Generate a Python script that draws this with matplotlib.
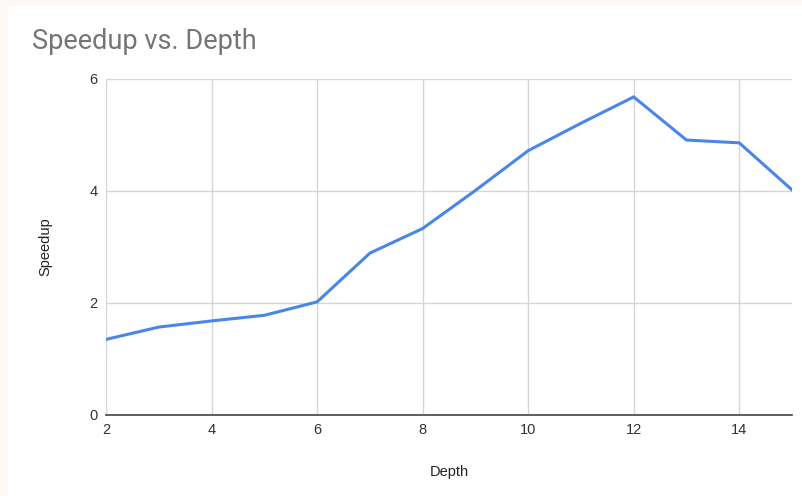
import matplotlib
matplotlib.use("Agg")
import matplotlib.pyplot as plt
from matplotlib.patches import Rectangle

# data
depth = [2, 3, 4, 5, 6, 7, 8, 9, 10, 11, 12, 13, 14, 15]
speedup = [1.35, 1.57, 1.68, 1.78, 2.02, 2.89, 3.33, 4.01, 4.72, 5.21, 5.68, 4.91, 4.86, 4.02]
x_ticks = [2, 4, 6, 8, 10, 12, 14]
y_ticks = [0, 2, 4, 6]

W, H = 803, 496
fig = plt.figure(figsize=(W / 100, H / 100), dpi=100, facecolor="#fcf8f5")
# white card over the off-white frame (kept behind the axes)
fig.patches.append(Rectangle((8 / W, 0), 1, 1 - 6 / H, transform=fig.transFigure,
                             facecolor="white", edgecolor="none", zorder=-5))

ax = fig.add_axes([106 / W, 81 / H, (792 - 106) / W, (415 - 79) / H])
ax.set_zorder(2)
ax.set_facecolor("white")
ax.plot(depth, speedup, color="#4a86e8", lw=2.2, solid_joinstyle="miter", zorder=3)

ax.set_xlim(2, 15)
ax.set_ylim(0, 6)
ax.set_xticks(x_ticks)
ax.set_yticks(y_ticks)
ax.grid(True, color="#d6d6d6", lw=1)
ax.tick_params(length=0, labelsize=10.5, labelcolor="#333333", pad=6)
for lab in ax.get_xticklabels() + ax.get_yticklabels():
    lab.set_family("Liberation Sans")
for s in ["top", "right", "left"]:
    ax.spines[s].set_visible(False)
ax.spines["bottom"].set_color("#444444")
ax.spines["bottom"].set_linewidth(1.2)

ax.set_xlabel("Depth", family="Liberation Sans", fontsize=10.5, color="#222222", labelpad=20)
ax.set_ylabel("Speedup", family="Liberation Sans", fontsize=10.5, color="#222222", labelpad=27)

fig.text(32 / W, 1 - 49 / H, "Speedup vs. Depth", family="Roboto", fontsize=19.5,
         color="#757575", ha="left", va="baseline")

fig.savefig("out.png", dpi=100, facecolor=fig.get_facecolor())
